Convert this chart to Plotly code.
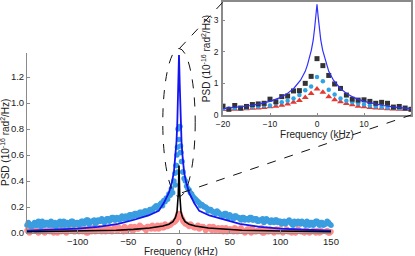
import numpy as np
import plotly.graph_objects as go

# ---------------- main panel data ----------------
main_freq = np.arange(-150, 150.01, 2.5)        # kHz, first interleaved set
main_freq2 = np.arange(-148.75, 148.76, 2.5)    # kHz, second interleaved set
lb_psd = [
    0.06, 0.07, 0.05, 0.08, 0.06, 0.07, 0.09, 0.06, 0.08, 0.07,
    0.06, 0.08, 0.07, 0.09, 0.07, 0.06, 0.08, 0.07, 0.09, 0.07,
    0.08, 0.07, 0.09, 0.08, 0.10, 0.08, 0.09, 0.07, 0.10, 0.09,
    0.10, 0.09, 0.11, 0.10, 0.12, 0.10, 0.11, 0.12, 0.11, 0.13,
    0.12, 0.14, 0.13, 0.15, 0.14, 0.16, 0.15, 0.17, 0.16, 0.18,
    0.19, 0.21, 0.20, 0.23, 0.25, 0.27, 0.30, 0.34, 0.40, 0.52,
    0.72,
    0.55, 0.42, 0.36, 0.33, 0.30, 0.27, 0.25, 0.23, 0.22, 0.20,
    0.19, 0.18, 0.17, 0.16, 0.17, 0.15, 0.14, 0.15, 0.13, 0.14,
    0.12, 0.13, 0.12, 0.11, 0.12, 0.10, 0.11, 0.12, 0.10, 0.11,
    0.09, 0.10, 0.11, 0.09, 0.10, 0.08, 0.09, 0.10, 0.08, 0.09,
    0.08, 0.07, 0.09, 0.08, 0.06, 0.08, 0.09, 0.07, 0.08, 0.06,
    0.07, 0.08, 0.06, 0.09, 0.07, 0.08, 0.06, 0.07, 0.08, 0.06,
]
lb_psd2 = [
    0.08, 0.05, 0.07, 0.06, 0.09, 0.05, 0.07, 0.08, 0.06, 0.09,
    0.07, 0.05, 0.08, 0.06, 0.09, 0.08, 0.06, 0.09, 0.06, 0.08,
    0.06, 0.09, 0.07, 0.10, 0.07, 0.09, 0.10, 0.08, 0.09, 0.11,
    0.08, 0.11, 0.09, 0.12, 0.10, 0.12, 0.10, 0.13, 0.12, 0.11,
    0.14, 0.12, 0.15, 0.13, 0.16, 0.14, 0.17, 0.15, 0.18, 0.17,
    0.20, 0.19, 0.22, 0.21, 0.24, 0.26, 0.29, 0.31, 0.37, 0.47,
    0.62, 0.47, 0.40, 0.34, 0.31, 0.28, 0.26, 0.24, 0.21, 0.21,
    0.20, 0.17, 0.18, 0.16, 0.15, 0.16, 0.14, 0.13, 0.15, 0.12,
    0.13, 0.11, 0.13, 0.12, 0.10, 0.12, 0.11, 0.10, 0.12, 0.10,
    0.11, 0.09, 0.10, 0.08, 0.11, 0.09, 0.10, 0.08, 0.10, 0.09,
    0.07, 0.09, 0.08, 0.10, 0.07, 0.09, 0.07, 0.08, 0.09, 0.07,
    0.09, 0.06, 0.08, 0.07, 0.09, 0.06, 0.08, 0.07, 0.09, 0.07,
]
pk_psd = [
    0.02, 0.00, 0.03, -0.01, 0.02, 0.01, 0.03, 0.00, 0.02, 0.01,
    0.03, 0.01, 0.00, 0.02, 0.04, 0.01, 0.02, -0.01, 0.03, 0.01,
    0.02, 0.04, 0.01, 0.03, 0.00, 0.02, 0.04, 0.01, 0.03, 0.02,
    0.03, 0.01, 0.04, 0.02, 0.03, 0.05, 0.02, 0.03, 0.01, 0.04,
    0.03, 0.05, 0.02, 0.04, 0.03, 0.05, 0.04, 0.02, 0.05, 0.03,
    0.04, 0.05, 0.03, 0.06, 0.04, 0.05, 0.06, 0.07, 0.08, 0.10,
    0.14,
    0.12, 0.08, 0.07, 0.05, 0.06, 0.04, 0.05, 0.03, 0.05, 0.04,
    0.03, 0.05, 0.02, 0.04, 0.03, 0.02, 0.04, 0.03, 0.01, 0.03,
    0.02, 0.04, 0.01, 0.03, 0.02, 0.00, 0.03, 0.02, 0.04, 0.01,
    0.02, 0.03, 0.00, 0.02, 0.01, 0.03, -0.01, 0.02, 0.01, 0.03,
    0.00, 0.02, 0.01, -0.01, 0.02, 0.00, 0.03, 0.01, -0.01, 0.02,
    0.01, -0.01, 0.02, 0.00, 0.01, 0.02, -0.01, 0.01, 0.00, 0.01,
]
pk_psd2 = [
    0.01, 0.03, -0.01, 0.02, 0.00, 0.03, 0.01, 0.02, -0.01, 0.03,
    0.00, 0.02, 0.03, 0.01, 0.02, 0.00, 0.03, 0.02, 0.01, 0.04,
    0.01, 0.03, 0.02, 0.00, 0.04, 0.01, 0.03, 0.02, 0.04, 0.01,
    0.04, 0.02, 0.03, 0.01, 0.05, 0.02, 0.04, 0.03, 0.05, 0.02,
    0.04, 0.02, 0.05, 0.03, 0.06, 0.04, 0.03, 0.05, 0.04, 0.06,
    0.03, 0.06, 0.05, 0.04, 0.07, 0.05, 0.06, 0.08, 0.09, 0.12,
    0.13, 0.10, 0.07, 0.06, 0.07, 0.05, 0.04, 0.06, 0.04, 0.05,
    0.02, 0.04, 0.03, 0.05, 0.02, 0.04, 0.03, 0.01, 0.04, 0.02,
    0.03, 0.01, 0.03, 0.02, 0.04, 0.02, 0.01, 0.03, 0.00, 0.02,
    0.01, 0.02, 0.04, 0.00, 0.03, 0.01, 0.02, 0.00, 0.03, 0.01,
    0.02, -0.01, 0.03, 0.01, 0.00, 0.02, -0.01, 0.02, 0.01, 0.00,
    0.02, 0.00, 0.01, -0.01, 0.02, 0.00, 0.01, -0.01, 0.02, 0.00,
]
# extra, finer-resolved points near the carrier
center_freq = [-4, -3, -2, -1.5, -1, 1, 1.5, 2, 3, 4]
center_lb = [0.46, 0.52, 0.60, 0.66, 0.80, 0.82, 0.67, 0.62, 0.55, 0.47]
center_pk = [0.09, 0.10, 0.12, 0.13, 0.15, 0.15, 0.13, 0.12, 0.11, 0.09]

# fitted curves (one-sided knots, symmetric about 0)
fit_f = [0, 0.3, 0.7, 1.2, 1.7, 2.5, 3.4, 5, 7, 10, 15, 20, 30, 45, 60, 80, 100, 125, 150]
blue_fit = [1.37, 1.28, 1.15, 0.97, 0.84, 0.70, 0.60, 0.47, 0.39, 0.31, 0.23, 0.17,
            0.135, 0.10, 0.07, 0.047, 0.034, 0.025, 0.018]
black_f = [0, 0.3, 0.7, 1.2, 2, 3.5, 6, 10, 16, 29, 45, 62, 100, 150]
black_fit = [0.52, 0.42, 0.30, 0.22, 0.16, 0.12, 0.088, 0.068, 0.054, 0.038, 0.028,
             0.021, 0.015, 0.010]

# ---------------- inset data ----------------
inset_freq = [-20, -18.75, -17.5, -16.25, -15, -13.75, -12.5, -11.25, -10, -8.75, -7.5,
              -6.25, -5, -3.75, -2.5, -1.25, 0, 1.25, 2.5, 3.75, 5, 6.25, 7.5, 8.75,
              10, 11.25, 12.5, 13.75, 15, 16.25, 17.5, 18.75, 20]
inset_black = [0.28, 0.18, 0.30, 0.22, 0.27, 0.33, 0.35, 0.37, 0.50, 0.42, 0.58, 0.60,
               0.76, 0.77, 1.00, 1.22, 1.78, 1.56, 1.25, 0.98, 0.84, 0.63, 0.50, 0.47,
               0.48, 0.43, 0.37, 0.40, 0.37, 0.25, 0.27, 0.22, 0.18]
inset_cyan = [0.20, 0.20, 0.22, 0.20, 0.23, 0.25, 0.27, 0.30, 0.30, 0.37, 0.40, 0.45,
              0.52, 0.63, 0.78, 0.90, 1.20, 1.07, 0.80, 0.65, 0.52, 0.45, 0.40, 0.36,
              0.33, 0.30, 0.27, 0.25, 0.24, 0.22, 0.21, 0.20, 0.18]
inset_red = [0.17, 0.18, 0.18, 0.19, 0.20, 0.21, 0.22, 0.24, 0.26, 0.28, 0.31, 0.35,
             0.40, 0.46, 0.55, 0.68, 0.82, 0.72, 0.58, 0.48, 0.42, 0.36, 0.32, 0.28,
             0.26, 0.24, 0.22, 0.21, 0.20, 0.19, 0.18, 0.18, 0.17]
inset_fit_f = [0, 0.25, 0.5, 0.8, 1.2, 2, 2.5, 3.5, 5, 6.5, 8, 10, 12, 14, 17, 20]
inset_fit = [3.5, 3.1, 2.75, 2.37, 2.05, 1.6, 1.38, 1.1, 0.83, 0.66, 0.54, 0.43, 0.36,
             0.30, 0.24, 0.20]

main_xticks = [-100, -50, 0, 50, 100, 150]
main_yticks = [0.0, 0.2, 0.4, 0.6, 0.8, 1.0, 1.2]
inset_xticks = [-20, -10, 0, 10, 20]
inset_yticks = [0, 1, 2, 3]

# ---------------- layout geometry ----------------
W, H = 415, 256
MAIN_XR = [-150, 150]
MAIN_YR = [0, 1.385]
MAIN_XD = [27 / W, 331 / W]
MAIN_YD = [1 - 233 / H, 1 - 53 / H]
INS_XR = [-20, 20]
INS_YR = [0, 3.57]
INS_XD = [223 / W, 411 / W]
INS_YD = [1 - 115 / H, 1 - 2 / H]


def mirror(f, v):
    f = list(f)
    v = list(v)
    return [-x for x in f[::-1]] + f[1:], v[::-1] + v[1:]


def to_paper(fx, vy):
    px = MAIN_XD[0] + (fx - MAIN_XR[0]) / (MAIN_XR[1] - MAIN_XR[0]) * (MAIN_XD[1] - MAIN_XD[0])
    py = MAIN_YD[0] + (vy - MAIN_YR[0]) / (MAIN_YR[1] - MAIN_YR[0]) * (MAIN_YD[1] - MAIN_YD[0])
    return px, py


FONT = "Liberation Sans"
TXT = "#222222"
AX = "#8a8a8a"
LB = "#3a9de0"
PK = "#ff8c8c"

fig = go.Figure()

# main panel
all_f = list(main_freq) + list(main_freq2) + center_freq
fig.add_trace(go.Scatter(x=all_f, y=pk_psd + pk_psd2 + center_pk, mode="markers",
                         marker=dict(color=PK, size=5.5), cliponaxis=False,
                         xaxis="x", yaxis="y", showlegend=False))
fig.add_trace(go.Scatter(x=all_f, y=lb_psd + lb_psd2 + center_lb, mode="markers",
                         marker=dict(color=LB, size=5.5), cliponaxis=False,
                         xaxis="x", yaxis="y", showlegend=False))
bx, by = mirror(fit_f, blue_fit)
fig.add_trace(go.Scatter(x=bx, y=by, mode="lines", line=dict(color="#1414f0", width=1.8),
                         xaxis="x", yaxis="y", showlegend=False))
kx, ky = mirror(black_f, black_fit)
fig.add_trace(go.Scatter(x=kx, y=ky, mode="lines", line=dict(color="#000000", width=1.6),
                         xaxis="x", yaxis="y", showlegend=False))

# inset panel
fig.add_trace(go.Scatter(x=inset_freq, y=inset_red, mode="markers",
                         marker=dict(color="#e23a32", size=6, symbol="triangle-up"),
                         xaxis="x2", yaxis="y2", showlegend=False))
fig.add_trace(go.Scatter(x=inset_freq, y=inset_cyan, mode="markers",
                         marker=dict(color="#2ea3e6", size=4.5),
                         xaxis="x2", yaxis="y2", showlegend=False))
fig.add_trace(go.Scatter(x=inset_freq, y=inset_black, mode="markers",
                         marker=dict(color="#333333", size=5, symbol="square"),
                         xaxis="x2", yaxis="y2", showlegend=False))
ix, iy = mirror(inset_fit_f, inset_fit)
fig.add_trace(go.Scatter(x=ix, y=iy, mode="lines", line=dict(color="#3030ff", width=1.2),
                         xaxis="x2", yaxis="y2", showlegend=False))

# zoom ellipse and connector lines (paper coordinates derived from data coordinates)
ex0, ey0 = to_paper(-16, 0.28)
ex1, ey1 = to_paper(16, 1.42)
shapes = [
    dict(type="circle", xref="paper", yref="paper", x0=ex0, y0=ey0, x1=ex1, y1=ey1,
         line=dict(color="#111111", width=1, dash="dash")),
]
tx, ty = to_paper(0.5, 1.42)
shapes.append(dict(type="line", xref="paper", yref="paper", x0=tx, y0=ty,
                   x1=INS_XD[0], y1=INS_YD[1], line=dict(color="#111111", width=1, dash="dash")))
lx, ly = to_paper(3, 0.31)
shapes.append(dict(type="line", xref="paper", yref="paper", x0=lx, y0=ly,
                   x1=INS_XD[1], y1=INS_YD[0], line=dict(color="#111111", width=1, dash="dash")))

ytitle = "PSD (10<sup>-16</sup> rad<sup>2</sup>/Hz)"
xtitle = "Frequency (kHz)"

annotations = [
    # main axis titles
    dict(text=xtitle, xref="paper", yref="paper", x=181 / W, y=1 - 251.5 / H,
         xanchor="center", yanchor="middle", showarrow=False, font=dict(size=10)),
    dict(text=ytitle, xref="paper", yref="paper", x=5 / W, y=1 - 143 / H, textangle=-90,
         xanchor="center", yanchor="middle", showarrow=False, font=dict(size=10)),
]

fig.update_layout(
    width=W, height=H,
    margin=dict(l=0, r=0, t=0, b=0, autoexpand=False),
    paper_bgcolor="white", plot_bgcolor="white",
    font=dict(family=FONT, size=10, color=TXT),
    shapes=shapes,
    annotations=annotations,
    xaxis=dict(domain=MAIN_XD, range=MAIN_XR, anchor="y", showgrid=False, zeroline=False,
               automargin=False,
               showline=True, linecolor=AX, linewidth=1, ticks="inside", ticklen=3,
               tickcolor=AX, tickvals=main_xticks, ticklabelstandoff=0,
               tickfont=dict(size=9.5)),
    yaxis=dict(domain=MAIN_YD, range=MAIN_YR, anchor="x", showgrid=False, zeroline=False,
               automargin=False,
               showline=True, linecolor=AX, linewidth=1, ticks="inside", ticklen=3,
               tickcolor=AX, tickvals=main_yticks, tickformat=".1f", ticklabelstandoff=0,
               tickfont=dict(size=9.5)),
    xaxis2=dict(domain=INS_XD, range=INS_XR, anchor="y2", showgrid=False, zeroline=False,
                automargin=False,
                showline=True, mirror=True, linecolor=AX, linewidth=1.5, ticks="inside",
                ticklen=2, tickcolor=AX, tickvals=inset_xticks, ticklabelstandoff=0,
                tickfont=dict(size=8.5),
                title=dict(text=xtitle, standoff=0, font=dict(size=10))),
    yaxis2=dict(domain=INS_YD, range=INS_YR, anchor="x2", showgrid=False, zeroline=False,
                automargin=False,
                showline=True, mirror=True, linecolor=AX, linewidth=1.5, ticks="inside",
                ticklen=2, tickcolor=AX, tickvals=inset_yticks, ticklabelstandoff=1,
                tickfont=dict(size=8.5),
                title=dict(text=ytitle, standoff=1, font=dict(size=10))),
)

fig.write_html("out.html", config={"displayModeBar": False},
               post_script="document.body.style.margin='0';document.body.style.overflow='hidden';")
